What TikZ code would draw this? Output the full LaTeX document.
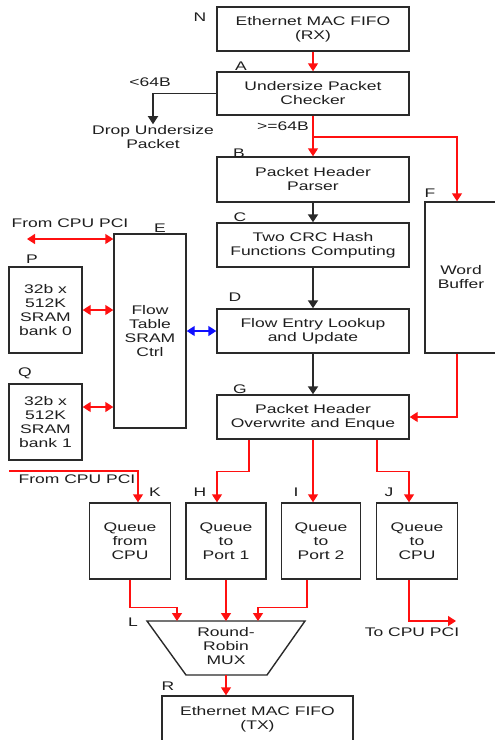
\documentclass[tikz,border=0pt]{standalone}
\usepackage{fontspec}
\setmainfont[FakeStretch=1.4]{Liberation Sans}
\usetikzlibrary{arrows.meta}
\definecolor{boxc}{HTML}{2A2A2A}
\definecolor{txtc}{HTML}{1E1E1E}
\definecolor{redc}{HTML}{FF1010}
\definecolor{bluc}{HTML}{1010FF}
\begin{document}
\begin{tikzpicture}[x=1pt,y=-1pt,
  font=\fontsize{12.5}{14}\selectfont, text=txtc,
  box/.style={draw=boxc, line width=1.4pt, inner sep=0pt, align=center},
  lbl/.style={inner sep=0pt},
  txt/.style={inner sep=0pt, align=center},
  tip/.tip={Triangle[width=10pt,length=8pt]},
  redarr/.style={draw=redc, line width=1.4pt, -tip},
  redboth/.style={draw=redc, line width=1.4pt, tip-tip},
  bluboth/.style={draw=bluc, line width=1.4pt, tip-tip},
  blkarr/.style={draw=boxc, line width=1.8pt, -{Triangle[width=10pt,length=8pt]}}]
\useasboundingbox (0,0) rectangle (495,740);

% boxes
\node[box, minimum width=192pt, minimum height=44pt] (N) at (313,29) {Ethernet MAC FIFO\\(RX)};
\node[box, minimum width=192pt, minimum height=43pt] (A) at (313,93.5) {Undersize Packet\\Checker};
\node[box, minimum width=192pt, minimum height=45pt] (B) at (313,179.5) {Packet Header\\Parser};
\node[box, minimum width=192pt, minimum height=44pt] (C) at (313,245) {Two CRC Hash\\Functions Computing};
\node[box, minimum width=192pt, minimum height=44pt] (D) at (313,331) {Flow Entry Lookup\\and Update};
\node[box, minimum width=192pt, minimum height=44pt] (G) at (313,417) {Packet Header\\Overwrite and Enque};
\node[box, minimum width=72pt, minimum height=151pt] (F) at (461,277.5) {Word\\Buffer};
\node[box, minimum width=72pt, minimum height=194pt] (E) at (150,331) {Flow\\Table\\SRAM\\Ctrl};
\node[box, minimum width=73pt, minimum height=86pt] (P) at (45.5,310) {32b x\\512K\\SRAM\\bank 0};
\node[box, minimum width=73pt, minimum height=76pt] (Q) at (45.5,422) {32b x\\512K\\SRAM\\bank 1};
\node[box, minimum width=81pt, minimum height=76pt] (K) at (130,541) {Queue\\from\\CPU};
\node[box, minimum width=80pt, minimum height=76pt] (H) at (226,541) {Queue\\to\\Port 1};
\node[box, minimum width=79pt, minimum height=76pt] (I) at (321,541) {Queue\\to\\Port 2};
\node[box, minimum width=81pt, minimum height=76pt] (J) at (417,541) {Queue\\to\\CPU};
\node[box, minimum width=191pt, minimum height=46pt] (R) at (257.5,719) {Ethernet MAC FIFO\\(TX)};

% round-robin mux
\coordinate (L1) at (147,621);
\coordinate (L2) at (305,621);
\coordinate (L3) at (267,675);
\coordinate (L4) at (186,675);
\draw[boxc, line width=1.4pt, line join=miter] (L1) -- (L2) -- (L3) -- (L4) -- cycle;
\node[txt] (Lt) at (226,646) {Round-\\Robin\\MUX};

% letter labels
\node[lbl] (lN) at (200,17) {N};
\node[lbl] (lA) at (241,66) {A};
\node[lbl] (lB) at (239,153) {B};
\node[lbl] (lC) at (240,217) {C};
\node[lbl] (lD) at (235,297) {D};
\node[lbl] (lE) at (160,228) {E};
\node[lbl] (lF) at (430,193) {F};
\node[lbl] (lG) at (240,389) {G};
\node[lbl] (lP) at (32,259) {P};
\node[lbl] (lQ) at (25,373) {Q};
\node[lbl] (lK) at (155,492) {K};
\node[lbl] (lH) at (200,492) {H};
\node[lbl] (lI) at (296,492) {I};
\node[lbl] (lJ) at (389,492) {J};
\node[lbl] (lL) at (133,622) {L};
\node[lbl] (lR) at (168,686) {R};

% free texts
\node[txt] (lt64) at (150,82) {<64B};
\node[txt] (drop) at (153,137) {Drop Undersize\\Packet};
\node[txt] (ge64) at (283,126) {>=64B};
\node[txt] (fcpu1) at (70,223) {From CPU PCI};
\node[txt] (fcpu2) at (77,479) {From CPU PCI};
\node[txt] (tcpu) at (412,632) {To CPU PCI};

% connectors
\draw[redarr] (N) -- (A);
\draw[blkarr] (A.west) -| ([yshift=1pt]drop.north);
\draw[redarr] (A) -- (B);
\coordinate (brF) at (313,137);
\draw[redarr] (brF) -| ([xshift=-4pt]F.north);
\draw[blkarr] (B) -- (C);
\draw[blkarr] (C) -- (D);
\draw[blkarr] (D) -- (G);
\draw[redarr] ([xshift=-4pt]F.south) |- (G.east);

\coordinate (cpuA) at (27,239);
\draw[redboth] (cpuA) -- (cpuA -| E.west);
\draw[redboth] (P.east) -- (P.east -| E.west);
\draw[redboth] ([yshift=15pt]Q.east) -- ([yshift=15pt]Q.east -| E.west);
\draw[bluboth] (E.east) -- (D.west);

\draw[redarr] ([xshift=-64pt]G.south) -- ++(0,32) -| ([xshift=-9pt]H.north);
\draw[redarr] (G.south) -- (G.south |- I.north);
\draw[redarr] ([xshift=64pt]G.south) -- ++(0,32) -| ([xshift=-8pt]J.north);
\coordinate (cpuB) at (9,471);
\draw[redarr] (cpuB) -| ([xshift=8pt]K.north);

\coordinate (LK) at (177,621);
\coordinate (LH) at (226,621);
\coordinate (LI) at (258,621);
\coordinate (Lb) at (226,675);
\coordinate (cpuC) at (456,621);
\draw[redarr] (K.south) -- ++(0,28) -| (LK);
\draw[redarr] (H.south) -- (LH);
\draw[redarr] ([xshift=-14pt]I.south) -- ++(0,28) -| (LI);
\draw[redarr] ([xshift=-8pt]J.south) |- (cpuC);
\draw[redarr] (Lb) -- (Lb |- R.north);
\end{tikzpicture}
\end{document}
